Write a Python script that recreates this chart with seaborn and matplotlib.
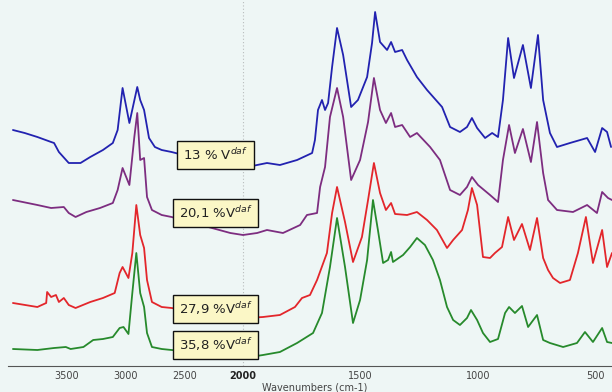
import numpy as np
import pandas as pd
import matplotlib
matplotlib.use("Agg")
import matplotlib.pyplot as plt
from matplotlib.ticker import FixedLocator, MultipleLocator
import seaborn as sns

# ---- data (wavenumber cm-1, offset absorbance in arbitrary units) ----
wn_13 = [3958, 3858, 3750, 3633, 3608, 3567, 3483, 3383, 3300, 3192, 3108, 3067, 3025, 2967, 2900, 2875,
         2842, 2800, 2750, 2692, 2608, 2108, 2000, 1940, 1898, 1843, 1770, 1706, 1694, 1681, 1664, 1651,
         1638, 1621, 1600, 1574, 1540, 1511, 1472, 1451, 1438, 1417, 1387, 1370, 1353, 1323, 1302, 1260,
         1217, 1153, 1119, 1077, 1047, 1026, 1004, 970, 940, 915, 894, 872, 847, 809, 775, 745, 723, 694,
         664, 609, 536, 502, 472, 451, 434]
ab_13 = [236, 233, 229, 224, 223, 214, 203, 203, 209, 216, 223, 236, 278, 243, 279, 266,
         256, 228, 219, 216, 214, 199, 198, 201, 203, 201, 206, 213, 226, 256, 266, 256,
         263, 299, 338, 311, 259, 266, 289, 323, 354, 324, 316, 324, 314, 316, 306, 289,
         276, 259, 239, 234, 239, 248, 238, 228, 233, 229, 266, 328, 288, 321, 278, 331, 266, 233,
         219, 223, 228, 214, 238, 234, 219]

wn_20 = [3958, 3750, 3633, 3525, 3483, 3425, 3333, 3217, 3108, 3067, 3025, 2967, 2925, 2900, 2875, 2842,
         2817, 2775, 2692, 2608, 2108, 2000, 1940, 1898, 1830, 1757, 1728, 1685, 1672, 1651, 1630, 1600,
         1574, 1540, 1502, 1468, 1443, 1417, 1392, 1370, 1353, 1323, 1289, 1260, 1204, 1162, 1119, 1077,
         1047, 1026, 1000, 949, 915, 894, 868, 843, 809, 775, 749, 723, 702, 664, 596, 536, 494, 472,
         447, 430]
ab_20 = [166, 161, 158, 159, 153, 149, 154, 158, 163, 176, 198, 181, 229, 253, 206, 208,
         169, 156, 151, 149, 133, 131, 133, 136, 133, 141, 151, 153, 179, 199, 249, 278,
         249, 186, 206, 244, 288, 256, 243, 253, 239, 241, 229, 233, 219, 206, 176, 171,
         179, 189, 181, 171, 164, 206, 241, 213, 237, 204, 244, 193, 166, 156, 154, 161, 153, 174,
         168, 166]

wn_27 = [3958, 3750, 3675, 3667, 3633, 3592, 3567, 3525, 3483, 3425, 3300, 3192, 3092, 3050, 3025, 2975,
         2942, 2908, 2875, 2842, 2817, 2775, 2692, 2608, 2108, 1983, 1915, 1843, 1779, 1749, 1715, 1685,
         1643, 1621, 1600, 1566, 1532, 1494, 1468, 1443, 1417, 1392, 1370, 1353, 1302, 1260, 1217, 1175,
         1132, 1106, 1068, 1043, 1026, 1004, 979, 949, 928, 898, 872, 847, 813, 779, 749, 723, 702, 681,
         651, 609, 575, 541, 511, 472, 451, 430]
ab_27 = [63, 59, 63, 74, 69, 71, 64, 68, 61, 58, 64, 68, 73, 93, 99, 88,
         113, 161, 131, 118, 86, 64, 59, 58, 49, 48, 49, 51, 59, 68, 71, 86,
         113, 153, 179, 144, 104, 129, 166, 203, 173, 156, 163, 152, 151, 154, 146, 136,
         118, 126, 136, 156, 178, 161, 109, 108, 113, 119, 149, 126, 142, 116, 148, 108, 96, 88,
         83, 86, 113, 149, 103, 136, 99, 113]

wn_35 = [3958, 3750, 3608, 3508, 3467, 3358, 3275, 3192, 3108, 3050, 3017, 2975, 2942, 2908, 2875, 2842,
         2817, 2775, 2692, 2608, 2108, 1970, 1915, 1843, 1770, 1702, 1664, 1630, 1600, 1566, 1532, 1502,
         1472, 1447, 1426, 1404, 1383, 1370, 1362, 1319, 1289, 1260, 1226, 1192, 1162, 1132, 1106, 1077,
         1047, 1030, 1004, 979, 949, 915, 885, 868, 843, 813, 787, 749, 723, 694, 638, 579, 545, 511,
         472, 451, 430]
ab_35 = [17, 16, 18, 19, 17, 19, 26, 27, 29, 38, 39, 32, 73, 113, 73, 59,
         33, 19, 17, 16, 11, 9, 11, 14, 23, 33, 53, 99, 148, 99, 43, 66,
         106, 166, 136, 103, 106, 114, 104, 111, 119, 128, 121, 106, 86, 59, 46, 41,
         48, 56, 46, 33, 24, 27, 53, 59, 53, 60, 39, 51, 26, 23, 19, 23, 34, 24,
         38, 24, 23]

series_names = ["13 % V$^{daf}$", "20,1 %V$^{daf}$", "27,9 %V$^{daf}$", "35,8 %V$^{daf}$"]
label_heights = [211, 153, 57, 21]
colors = ["#2222b0", "#7d2d80", "#e3262b", "#278a2c"]
major_ticks = [3500, 3000, 2500, 2000, 1500, 1000, 500]

frames = []
for name, wn, ab in zip(series_names, [wn_13, wn_20, wn_27, wn_35], [ab_13, ab_20, ab_27, ab_35]):
    frames.append(pd.DataFrame({"wavenumber": wn, "absorbance": ab, "sample": name}))
df = pd.concat(frames, ignore_index=True)

# ---- figure ----
sns.set_style("white")
bg = "#eef6f5"
fig = plt.figure(figsize=(6.12, 3.92), dpi=100, facecolor=bg)
ax = fig.add_axes([8 / 612, 26 / 392, 604 / 612, 366 / 392])
ax.set_facecolor(bg)


def fwd(w):
    w = np.asarray(w, dtype=float)
    return np.where(w > 2000, 2000 + (w - 2000) * 0.5, w)


def inv(f):
    f = np.asarray(f, dtype=float)
    return np.where(f > 2000, 2000 + (f - 2000) * 2.0, f)


ax.set_xscale("function", functions=(fwd, inv))

sns.lineplot(data=df, x="wavenumber", y="absorbance", hue="sample", palette=colors,
             sort=False, estimator=None, linewidth=1.3, legend=False, ax=ax)

ax.axvline(2000, color="#b8bcbc", linestyle=(0, (1, 2)), linewidth=0.8, zorder=0)

ax.set_xlim(4000, 430)
ax.set_ylim(0, 366)

for name, h in zip(series_names, label_heights):
    ax.text(2233, h, name, ha="center", va="center", fontsize=9.5, color="#222222",
            bbox=dict(boxstyle="square,pad=0.45", facecolor="#fbf7c6", edgecolor="#111111", linewidth=1.0),
            zorder=5)

for s in ["left", "right", "top"]:
    ax.spines[s].set_visible(False)
ax.spines["bottom"].set_color("#555555")
ax.spines["bottom"].set_linewidth(0.8)
ax.set_yticks([])
ax.xaxis.set_major_locator(FixedLocator(major_ticks))
ax.xaxis.set_minor_locator(MultipleLocator(100))
ax.tick_params(axis="x", which="major", direction="inout", length=4, width=0.7, color="#555555",
               labelsize=7, labelcolor="#444444", pad=1.5)
ax.tick_params(axis="x", which="minor", direction="inout", length=2.5, width=0.6, color="#555555")
ax.set_xticklabels([str(t) for t in major_ticks])
for lbl in ax.get_xticklabels():
    if lbl.get_text() == "2000":
        lbl.set_fontweight("bold")
        lbl.set_color("#222222")
ax.set_xlabel("Wavenumbers (cm-1)", fontsize=7, color="#444444")
ax.xaxis.set_label_coords((315 - 8) / 604, -0.045)
ax.set_ylabel("")

fig.savefig("out.png", dpi=100, facecolor=bg)
